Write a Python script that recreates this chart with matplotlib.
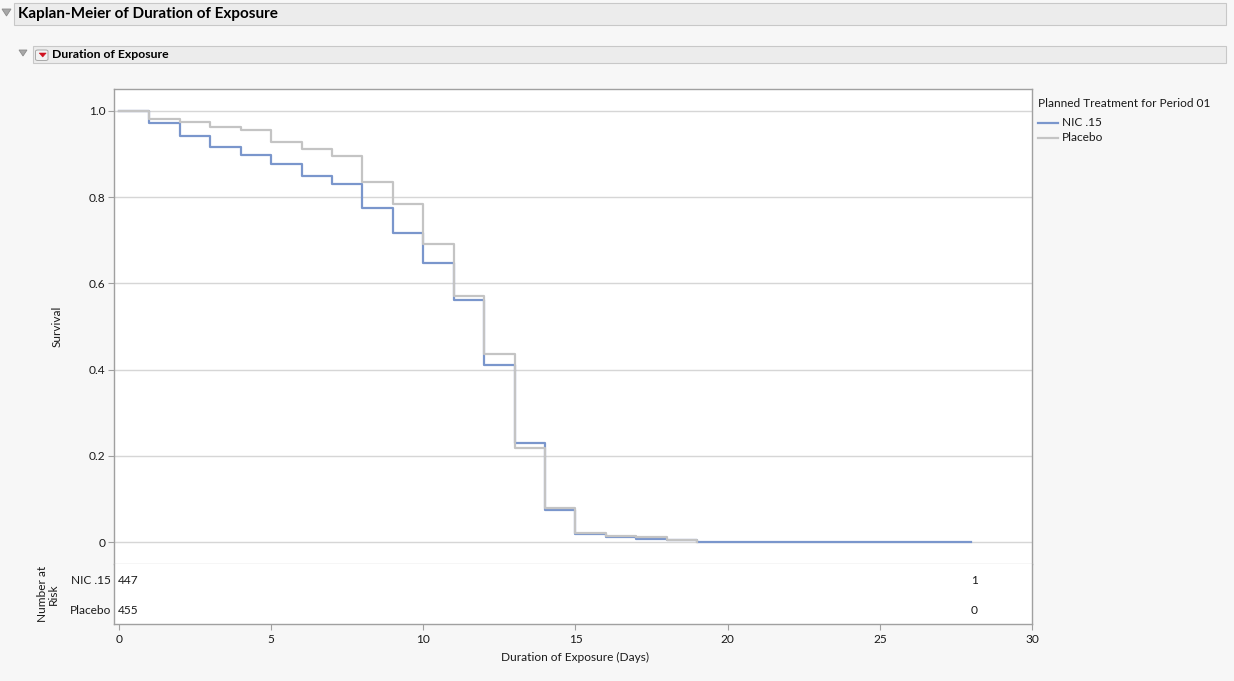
import matplotlib
matplotlib.use("Agg")
import matplotlib.pyplot as plt
from matplotlib.lines import Line2D
from matplotlib.patches import Rectangle, Polygon, FancyBboxPatch

plt.rcParams['font.family'] = ['Lato', 'DejaVu Sans']

# ---------------- data ----------------
nic_days = [0, 1, 2, 3, 4, 5, 6, 7, 8, 9, 10, 11, 12, 13, 14, 15, 16, 17, 18, 19, 28]
nic_surv = [1.0, 0.971, 0.943, 0.916, 0.899, 0.878, 0.849, 0.831, 0.775, 0.717, 0.648,
            0.562, 0.411, 0.229, 0.075, 0.0195, 0.012, 0.0077, 0.005, 0.001, 0.001]
pla_days = [0, 1, 2, 3, 4, 5, 6, 7, 8, 9, 10, 11, 12, 13, 14, 15, 16, 17, 18, 19]
pla_surv = [1.0, 0.981, 0.974, 0.963, 0.956, 0.928, 0.912, 0.896, 0.836, 0.784, 0.691,
            0.571, 0.436, 0.217, 0.079, 0.022, 0.0145, 0.0105, 0.005, 0.0]
group_names = ["NIC .15", "Placebo"]
risk_times = [0, 28]
nic_risk = [447, 1]
pla_risk = [455, 0]
y_ticks = [0, 0.2, 0.4, 0.6, 0.8, 1.0]
y_ticklabels = ["0", "0.2", "0.4", "0.6", "0.8", "1.0"]
x_ticks = [0, 5, 10, 15, 20, 25, 30]

# ---------------- style ----------------
W, H = 1234, 681
BG = '#f7f7f7'
BLUE = '#7a96cc'
GRAY = '#c4c4c4'
GRID = '#d6d6d6'
FRAME = '#a0a0a0'
TXT = '#1a1a1a'
FS = 8.6

def fx(x):
    return x / W

def fy(y):
    return 1 - y / H

fig = plt.figure(figsize=(W / 100, H / 100), dpi=100, facecolor=BG)

# header bars
fig.patches.append(Rectangle((fx(14), fy(25)), fx(1226) - fx(14), fy(3) - fy(25),
                             transform=fig.transFigure, facecolor='#ececec',
                             edgecolor='#c8c8c8', lw=0.8))
fig.text(fx(18), fy(14), "Kaplan-Meier of Duration of Exposure", fontsize=11,
         fontweight='bold', color='black', ha='left', va='center')
fig.patches.append(Polygon([(fx(2), fy(9)), (fx(11), fy(9)), (fx(6.5), fy(16))],
                           closed=True, transform=fig.transFigure,
                           facecolor='#a8a8a8', edgecolor='#8c8c8c', lw=0.6))

fig.patches.append(Rectangle((fx(33), fy(63)), fx(1226) - fx(33), fy(46) - fy(63),
                             transform=fig.transFigure, facecolor='#ececec',
                             edgecolor='#c8c8c8', lw=0.8))
fig.patches.append(Polygon([(fx(19), fy(50)), (fx(27), fy(50)), (fx(23), fy(56))],
                           closed=True, transform=fig.transFigure,
                           facecolor='#a8a8a8', edgecolor='#8c8c8c', lw=0.6))
fig.patches.append(FancyBboxPatch((fx(35.5), fy(60.5)), fx(12.5), fy(50) - fy(60.5),
                                  boxstyle='round,pad=0,rounding_size=0.002',
                                  transform=fig.transFigure, facecolor='#f2f2f2',
                                  edgecolor='#a8a8a8', lw=0.7))
fig.patches.append(Polygon([(fx(39.2), fy(53)), (fx(46.2), fy(53)), (fx(42.7), fy(57))],
                           closed=True, transform=fig.transFigure,
                           facecolor='#d0101e', edgecolor='#d0101e', lw=0.4))
fig.text(fx(51.5), fy(55), "Duration of Exposure", fontsize=8.8, fontweight='bold',
         color='black', ha='left', va='center')

# ---------------- main axes ----------------
ax = fig.add_axes([fx(114), fy(564), fx(1032) - fx(114), fy(89) - fy(564)])
ax.set_facecolor('white')
ax.set_xlim(-0.164, 30)
ax.set_ylim(-0.051, 1.051)
for yv in y_ticks:
    ax.axhline(yv, color=GRID, lw=1.0, zorder=1)
ax.step(nic_days, nic_surv, where='post', color=BLUE, lw=1.6, zorder=3)
ax.step(pla_days, pla_surv, where='post', color=GRAY, lw=1.6, zorder=4)
ax.set_yticks(y_ticks)
ax.set_yticklabels(y_ticklabels)
ax.set_xticks([])
ax.tick_params(axis='y', length=4.3, width=0.8, color=FRAME, pad=2,
               labelsize=FS, labelcolor=TXT)
for s in ['left', 'top', 'right']:
    ax.spines[s].set_color(FRAME)
    ax.spines[s].set_linewidth(1.0)
ax.spines['bottom'].set_color(GRID)
ax.spines['bottom'].set_linewidth(1.0)
fig.text(fx(57), fy(326), "Survival", rotation=90, fontsize=FS, color=TXT,
         ha='center', va='center')

# ---------------- risk table ----------------
axr = fig.add_axes([fx(114), fy(624), fx(1032) - fx(114), fy(564) - fy(624)])
axr.set_facecolor('white')
axr.set_xlim(-0.164, 30)
axr.set_ylim(60, 0)
axr.set_yticks([])
axr.set_xticks(x_ticks)
axr.tick_params(axis='x', length=4.3, width=0.8, color=FRAME, pad=3,
                labelsize=FS, labelcolor=TXT)
axr.spines['top'].set_visible(False)
for s in ['left', 'right', 'bottom']:
    axr.spines[s].set_color(FRAME)
    axr.spines[s].set_linewidth(1.0)
row_y = [16, 46]
for risks, yr in zip([nic_risk, pla_risk], row_y):
    for t, n in zip(risk_times, risks):
        if t == 0:
            axr.text(t - 0.03, yr, str(n), ha='left', va='center', fontsize=FS, color=TXT)
        else:
            axr.text(t + 0.1, yr, str(n), ha='center', va='center', fontsize=FS, color=TXT)
for name, yr in zip(group_names, row_y):
    axr.text(-0.26, yr, name, ha='right', va='center', fontsize=FS, color=TXT,
             clip_on=False)
fig.text(fx(48), fy(594), "Number at\nRisk", rotation=90, fontsize=FS, color=TXT,
         ha='center', va='center', linespacing=1.05)
fig.text(fx(575), fy(657), "Duration of Exposure (Days)", fontsize=FS, color=TXT,
         ha='center', va='center')

# ---------------- legend ----------------
fig.text(fx(1038), fy(103.5), "Planned Treatment for Period 01", fontsize=FS,
         color=TXT, ha='left', va='center')
for name, col, yl in zip(group_names, [BLUE, GRAY], [122.5, 137.5]):
    fig.add_artist(Line2D([fx(1038), fx(1058)], [fy(yl), fy(yl)], color=col, lw=1.6,
                          transform=fig.transFigure))
    fig.text(fx(1062), fy(yl), name, fontsize=FS, color=TXT, ha='left', va='center')

fig.savefig("out.png", dpi=100, facecolor=BG)
